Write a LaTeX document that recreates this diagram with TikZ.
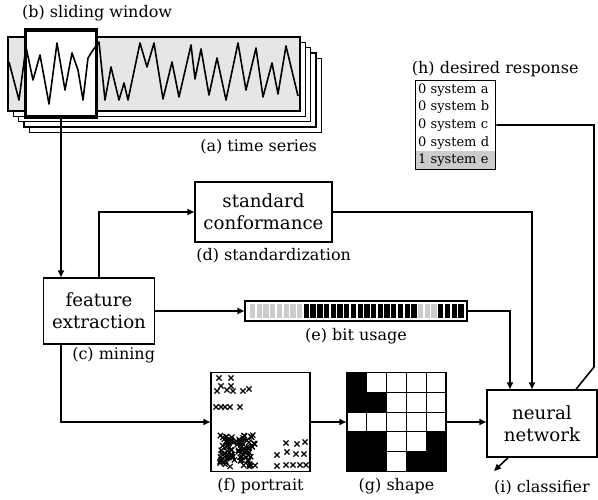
\documentclass[tikz,border=0pt]{standalone}
\usepackage{fontspec}
\setmainfont{DejaVu Serif}
\usepackage{xcolor}
\usepackage{tikz}
\usetikzlibrary{positioning, arrows.meta, matrix}
\definecolor{seriesgray}{HTML}{E6E6E6}
\definecolor{bitgray}{HTML}{CCCCCC}
\definecolor{respgray}{HTML}{CCCCCC}
\newcommand{\boxfont}{\fontsize{18.2}{21.7}\selectfont}
\newcommand{\lblfont}{\fontsize{16}{19}\selectfont}
\newcommand{\tabfont}{\fontsize{13}{15}\selectfont}

\tikzset{
    stepbox/.style={draw, line width=1.5pt, align=center, inner sep=0pt, font=\boxfont},
    lbl/.style={inner sep=0pt, font=\lblfont},
    link/.style={line width=1.6pt},
    arr/.style={link, -{Triangle[length=7pt, width=6pt]}},
    xmark/.style={line width=1.2pt},
}

\begin{document}
\begin{tikzpicture}[x=1pt, y=-1pt]
    \useasboundingbox (0,0) rectangle (598,499);

    % time series stack
    \foreach \d in {4,3,2,1}
        \draw[fill=white, line width=1.3pt] (8+5.3*\d, 37+5.3*\d) rectangle ++(292,74);
    \draw[fill=seriesgray, line width=1.3pt] (8,37) rectangle (300,111);
    \node[draw, fill=white, line width=3.2pt, minimum width=71pt, minimum height=87pt, inner sep=0pt] (win) at (61,73.5) {};
    \draw[link, line join=round] (9,62) -- (19,100) -- (26,47) -- (33,80) -- (40,55) -- (49,104) -- (57,43)
        -- (65,90) -- (72,53) -- (78,70) -- (83,100) -- (88,58) -- (93,50) -- (99,42) -- (105,100)
        -- (111,67) -- (119,100) -- (124,83) -- (128,100) -- (140,43) -- (147,67) -- (154,43)
        -- (163,99) -- (172,62) -- (179,97) -- (191,45) -- (195,79) -- (201,49) -- (209,95)
        -- (217,58) -- (226,100) -- (238,43) -- (246,90) -- (256,48) -- (263,97) -- (272,63)
        -- (278,94) -- (286,46) -- (298,96);
    \node[lbl, anchor=west] (winlbl) at (22,13) {(b) sliding window};
    \node[lbl, anchor=east] (serieslbl) at (317,147) {(a) time series};

    % processing boxes
    \node[stepbox, minimum width=111pt, minimum height=66pt] (feat) at (99,311) {feature\\extraction};
    \node[lbl, below left=2pt and 0pt of feat.south east] (featlbl) {(c) mining};
    \node[stepbox, minimum width=137pt, minimum height=60pt] (std) at (263.5,212) {standard\\conformance};
    \node[lbl, below right=5pt and 2pt of std.south west] (stdlbl) {(d) standardization};

    % bit usage bar
    \node[draw, line width=1.5pt, minimum width=222pt, minimum height=20pt, inner sep=0pt] (bits) at (356,311) {};
    \foreach \i in {0,...,7,25,26,27}
        \fill[bitgray] (250+6.72*\i, 304) rectangle ++(5.3,14);
    \foreach \i in {8,...,24,28,29,30,31}
        \fill[black] (250+6.72*\i, 304) rectangle ++(5.3,14);
    \node[lbl, below=6pt of bits] (bitslbl) {(e) bit usage};

    % portrait
    \node[draw, line width=1.5pt, minimum size=99pt, inner sep=0pt] (port) at (260.5,422) {};
    \foreach \x/\y in {219/378, 231/378, 221/386, 231/386, 217/391, 227/390, 233/391, 243/391, 249/389,
                       216/407, 221/407, 225/407, 230/407, 240/407,
                       286/443, 297/444, 305/442, 277/455, 287/452, 296/454, 304/454,
                       277/466, 286/465, 293/465, 300/465, 306/465}
        \draw[xmark] (\x-2.6,\y-2.6) -- ++(5.2,5.2) (\x-2.6,\y+2.6) -- ++(5.2,-5.2);
    \pgfmathsetseed{11}
    \foreach \k in {1,...,95} {
        \pgfmathsetmacro\cx{220+rnd*36}
        \pgfmathsetmacro\cy{435+rnd*32}
        \draw[xmark] (\cx-2.6,\cy-2.6) -- ++(5.2,5.2) (\cx-2.6,\cy+2.6) -- ++(5.2,-5.2);
    }
    \node[lbl, below=6pt of port] (portlbl) {(f) portrait};

    % shape grid
    \foreach \c/\r in {0/0, 0/1, 1/1, 0/3, 1/3, 4/3, 0/4, 1/4, 3/4, 4/4}
        \fill[black] (347+19.8*\c, 372.5+19.8*\r) rectangle ++(19.8,19.8);
    \foreach \i in {1,...,4} {
        \draw[line width=1pt] (347+19.8*\i, 372.5) -- ++(0,99);
        \draw[line width=1pt] (347, 372.5+19.8*\i) -- ++(99,0);
    }
    \node[draw, line width=1.5pt, minimum size=99pt, inner sep=0pt] (shape) at (396.5,422) {};
    \node[lbl, below=6pt of shape] (shapelbl) {(g) shape};

    % desired response
    \matrix (resp) [matrix of nodes, draw, line width=1.5pt, inner sep=0.5pt, row sep=0pt,
                    nodes={text width=75pt, minimum height=17.6pt, inner xsep=2pt, inner ysep=0pt, font=\tabfont}]
        at (455.5,125) {
        0 system a\\
        0 system b\\
        0 system c\\
        0 system d\\
        |[fill=respgray]| 1 system e\\
    };
    \node[lbl, above right=3pt and -3pt of resp.north west] (resplbl) {(h) desired response};

    % classifier
    \node[stepbox, minimum width=110pt, minimum height=67pt] (nn) at (542,423.5) {neural\\network};
    \coordinate (bend) at (594,367);
    \coordinate (out) at (494,471);
    \node[lbl, below=22pt of nn] (nnlbl) {(i) classifier};

    % connectors
    \draw[arr] (win.south) -- (win.south |- feat.north);
    \draw[arr] (feat.north) |- (std.west);
    \draw[arr] (feat.east) -- (bits.west);
    \draw[arr] (feat.south -| win.south) |- (port.west);
    \draw[arr] (port.east) -- (shape.west);
    \draw[arr] (shape.east) -- (shape.east -| nn.west);
    \draw[arr] (bits.east) -| ([xshift=-32pt]nn.north);
    \draw[arr] (std.east) -| ([xshift=-10pt]nn.north);
    \draw[link] (resp.east) -| (bend) -- ([xshift=34pt]nn.north);
    \draw[arr] ([xshift=-34pt]nn.south) -- (out);
\end{tikzpicture}
\end{document}
